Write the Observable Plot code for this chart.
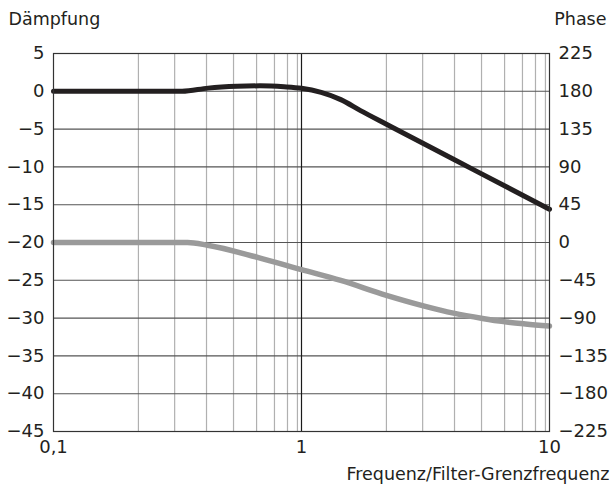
<!DOCTYPE html>
<html>
<head>
<meta charset="utf-8">
<script src="https://cdn.jsdelivr.net/npm/d3@7"></script>
<script src="https://cdn.jsdelivr.net/npm/@observablehq/plot@0.6"></script>
<style>
  body { margin: 0; background: #fff; }
</style>
</head>
<body>
<div id="chart"></div>
<script>
// Dämpfung (dB) vs. normalised frequency
const dampFreq = [0.1, 0.2, 0.33, 0.42, 0.55, 0.68, 0.85, 1.0, 1.2, 1.44, 1.73, 2.2, 3.3, 5, 10];
const dampValues = [0, 0, 0, 0.42, 0.66, 0.72, 0.6, 0.4, -0.15, -1.1, -2.55, -4.35, -7.36, -10.46, -15.6];

// Phase (degrees) vs. normalised frequency
const phaseFreq = [0.1, 0.2, 0.347, 0.418, 0.665, 1.0, 1.44, 2.2, 3.1, 4.1, 5.37, 6.53, 8, 10];
const phaseValues = [0, 0, 0, -3.2, -17.7, -32.3, -45.2, -62.9, -75.4, -84.1, -90.4, -94.2, -97, -99.5];

// axis ticks and grid
const xTicks = [0.1, 1, 10];
const xTickLabels = ["0,1", "1", "10"];
const xGrid = [0.22, 0.308, 0.414, 0.532, 0.659, 0.778, 0.878, 0.963, 2.2, 3.08, 4.14, 5.32, 6.59, 7.78, 8.78, 9.63];
const leftTicks = [5, 0, -5, -10, -15, -20, -25, -30, -35, -40, -45];
const rightTicks = [225, 180, 135, 90, 45, 0, -45, -90, -135, -180, -225];
const yGrid = [0, -5, -10, -15, -20, -25, -30, -35, -40];

const fmt = v => (v < 0 ? "\u2212" : "") + Math.abs(v);
const phaseToY = p => (p - 180) / 9;

const damp = dampFreq.map((f, i) => ({f, v: dampValues[i]}));
const phase = phaseFreq.map((f, i) => ({f, v: phaseToY(phaseValues[i])}));

const chart = Plot.plot({
  width: 614,
  height: 491,
  marginTop: 53,
  marginBottom: 60,
  marginLeft: 53,
  marginRight: 65,
  style: {fontFamily: "'DejaVu Sans', sans-serif", fontSize: "18px", color: "#231f20", background: "#fff", overflow: "visible"},
  x: {type: "log", domain: [0.1, 10]},
  y: {domain: [-45, 5]},
  marks: [
    Plot.ruleX(xGrid, {stroke: "#b0b0b0", strokeWidth: 1.2}),
    Plot.ruleY(yGrid, {stroke: "#555", strokeWidth: 1.1}),
    Plot.ruleX([1], {stroke: "#1a1a1a", strokeWidth: 1.2}),
    Plot.line(phase, {x: "f", y: "v", stroke: "#9a9a9a", strokeWidth: 5.5, curve: "monotone-x"}),
    Plot.line(damp, {x: "f", y: "v", stroke: "#231f20", strokeWidth: 5, curve: "monotone-x"}),
    Plot.frame({stroke: "#333", strokeWidth: 1.2}),
    Plot.axisX(xTicks, {tickSize: 0, tickPadding: 9, tickFormat: d => xTickLabels[xTicks.indexOf(d)], label: null, fontSize: 18}),
    Plot.axisY(leftTicks, {anchor: "left", tickSize: 0, tickPadding: 9, tickFormat: fmt, label: null, fontSize: 18}),
    Plot.axisY(rightTicks.map(phaseToY), {anchor: "right", tickSize: 0, tickPadding: 9, tickFormat: d => fmt(Math.round(d * 9 + 180)), label: null, fontSize: 18}),
    Plot.text(["Dämpfung"], {frameAnchor: "top-left", dx: -45, dy: -29, textAnchor: "start", lineAnchor: "bottom", fontSize: 17.5}),
    Plot.text(["Phase"], {frameAnchor: "top-right", dx: 57, dy: -29, textAnchor: "end", lineAnchor: "bottom", fontSize: 17.5}),
    Plot.text(["Frequenz/Filter-Grenzfrequenz"], {frameAnchor: "bottom-right", dx: 60, dy: 48, textAnchor: "end", lineAnchor: "bottom", fontSize: 17.5})
  ]
});
document.getElementById("chart").append(chart);
</script>
</body>
</html>
